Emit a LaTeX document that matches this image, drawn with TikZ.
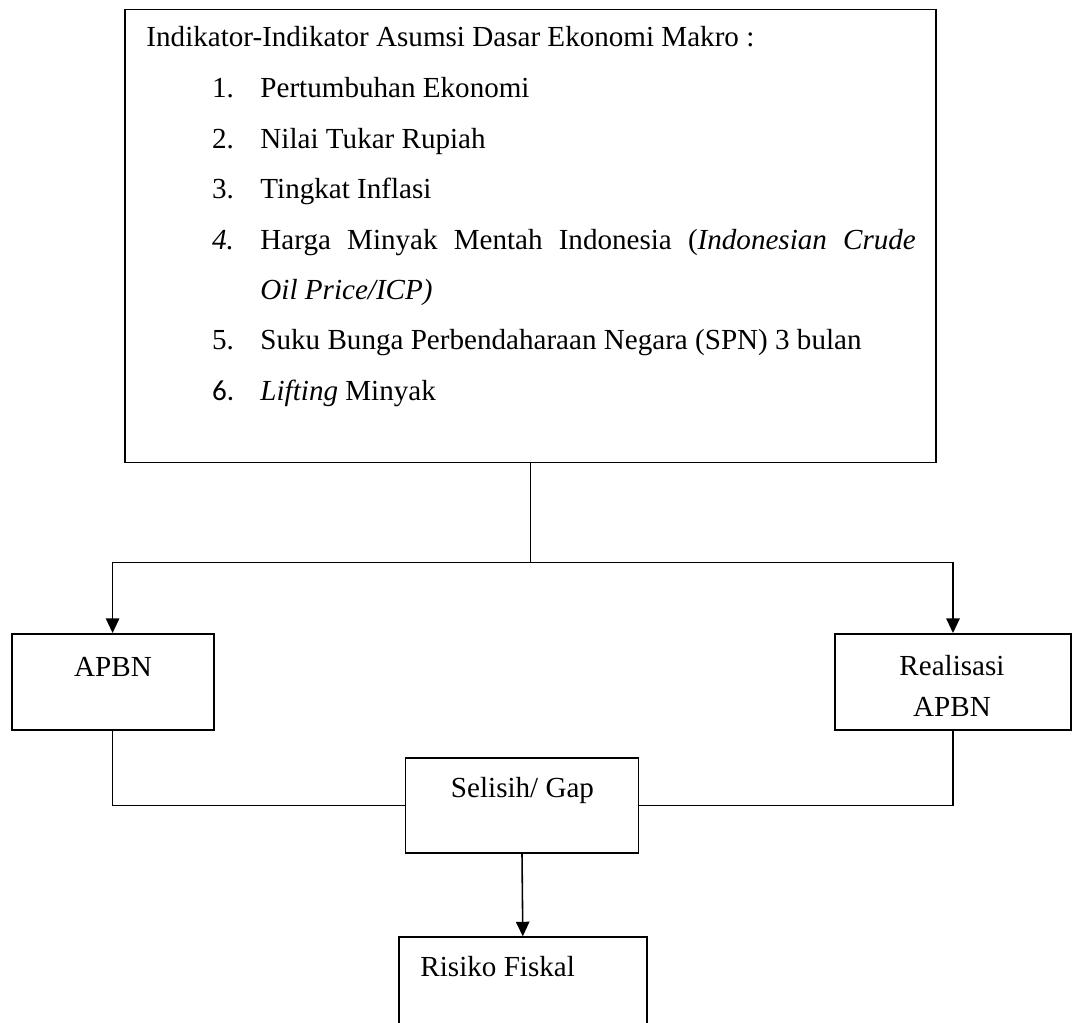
\documentclass[tikz,border=0pt]{standalone}
\usepackage{fontspec}
\setmainfont{Liberation Serif}
\newfontfamily\calibrifont{Carlito}
\usetikzlibrary{arrows.meta}
\tikzset{
  box/.style={draw, line width=0.8pt, inner sep=0pt},
  txt/.style={inner sep=0pt, font=\fontsize{12}{14}\selectfont},
  line/.style={line width=0.65pt},
  arr/.style={line width=0.65pt, -{Triangle[length=6pt,width=5.5pt]}}
}
\begin{document}
\begin{tikzpicture}[x=0.0145cm, y=-0.0145cm]
  \useasboundingbox (0,0) rectangle (1074,1023);
  \clip (0,0) rectangle (1074,1023);
  % indicator box
  \node[box, minimum width=811*0.0145cm, minimum height=453*0.0145cm] (ind) at (530.4,236) {};
  \node[txt, anchor=base west] (head) at (146,46.7) {Indikator-Indikator Asumsi Dasar Ekonomi Makro :};
  \node[txt, anchor=base west] (i1) at (211.7,97.7) {\makebox[0.7cm][l]{1.}Pertumbuhan Ekonomi};
  \node[txt, anchor=base west] (i2) at (211.7,148.3) {\makebox[0.7cm][l]{2.}Nilai Tukar Rupiah};
  \node[txt, anchor=base west] (i3) at (211.7,199) {\makebox[0.7cm][l]{3.}Tingkat Inflasi};
  \node[txt, anchor=base west] (i4) at (211.7,249.3) {\makebox[0.7cm][l]{\textit{4.}}\makebox[9.5cm][s]{Harga Minyak Mentah Indonesia (\textit{Indonesian Crude}}};
  \node[txt, anchor=base west] (i4b) at (260,299.5) {\textit{Oil Price/ICP)}};
  \node[txt, anchor=base west] (i5) at (211.7,350) {\makebox[0.7cm][l]{5.}Suku Bunga Perbendaharaan Negara (SPN) 3 bulan};
  \node[txt, anchor=base west] (i6) at (211.7,401) {\makebox[0.7cm][l]{\calibrifont 6.}\textit{Lifting} Minyak};
  % APBN and realisation
  \node[box, minimum width=202*0.0145cm, minimum height=96*0.0145cm] (apbn) at (112.6,682) {};
  \node[txt, anchor=base] (apbnlbl) at (113,676.5) {APBN};
  \node[box, minimum width=236*0.0145cm, minimum height=96*0.0145cm] (real) at (953,682) {};
  \node[txt, align=center, font=\fontsize{12}{17.2}\selectfont] (reallbl) at (952,686) {Realisasi\\APBN};
  % gap
  \node[box, minimum width=233*0.0145cm, minimum height=95*0.0145cm] (gap) at (522,805.5) {};
  \node[txt, anchor=base] (gaplbl) at (522.5,797.5) {Selisih/ Gap};
  % fiscal risk
  \node[box, minimum width=248*0.0145cm, minimum height=130*0.0145cm] (risk) at (522.8,1002.3) {};
  \node[txt, anchor=base west] (risklbl) at (420,976.7) {Risiko Fiskal};
  % connectors
  \draw[line] (ind.south) -- ++(0,99) coordinate (split);
  \draw[arr] (split) -| (apbn.north);
  \draw[arr] (split) -| (real.north);
  \draw[line] (apbn.south) |- (gap.west);
  \draw[line] (real.south) |- (gap.east);
  \draw[arr] (gap.south) -- (risk.north);
\end{tikzpicture}
\end{document}
